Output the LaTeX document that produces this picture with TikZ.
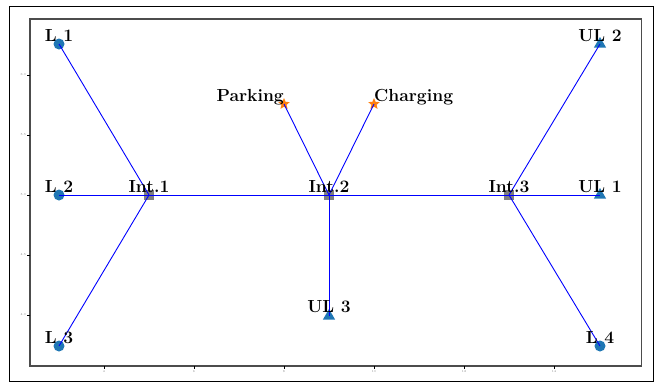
\documentclass[tikz,border=0pt]{standalone}
\usepackage{fontspec}
\usetikzlibrary{shapes.geometric}
\definecolor{mplblue}{HTML}{1F77B4}
\definecolor{mplorange}{HTML}{FF7F0E}
\definecolor{mplgray}{HTML}{7F7F7F}
\begin{document}
\begin{tikzpicture}[x=1pt,y=-1pt,
  locmark/.style={circle,fill=mplblue,inner sep=0pt,minimum size=11pt},
  ulmark/.style={regular polygon,regular polygon sides=3,fill=mplblue,inner sep=0pt,minimum size=14pt},
  intmark/.style={rectangle,fill=mplgray,inner sep=0pt,minimum size=10pt},
  poimark/.style={star,star points=5,star point ratio=2.2,fill=mplorange,inner sep=0pt,minimum size=12pt},
  road/.style={blue,line width=0.9pt},
  lab/.style={font=\fontsize{17.5}{20}\selectfont\bfseries,inner sep=0pt},
  ticklab/.style={font=\fontsize{3}{3}\selectfont,text=gray,inner sep=0.5pt}]
\useasboundingbox (0,0) rectangle (659,383);
\fill[white] (0,0) rectangle (659,383);
\draw[black,line width=1pt] (9,6) rectangle (653,381.5);
\draw[black!70,line width=1.2pt] (30,19) rectangle (641.5,366);
% ticks
\foreach \px/\t in {104/4,194/6,284/8,374/10,464/12,554/14}{
  \draw[black,line width=0.6pt] (\px,366) -- (\px,369);
  \node[ticklab,anchor=north] at (\px,369.5) {\t};
}
\foreach \py/\t in {75/6.0,135/5.5,195/5.0,255/4.5,315/4.0}{
  \draw[black,line width=0.6pt] (30,\py) -- (27,\py);
  \node[ticklab,anchor=east] at (26.5,\py) {\t};
}
% markers
\node[locmark] (l1) at (59,44) {};
\node[locmark] (l2) at (59,195) {};
\node[locmark] (l3) at (59,346) {};
\node[locmark] (l4) at (600,346) {};
\node[intmark] (i1) at (149,195) {};
\node[intmark] (i2) at (329,195) {};
\node[intmark] (i3) at (509,195) {};
\node[ulmark] (u1) at (600,195) {};
\node[ulmark] (u2) at (600,44) {};
\node[ulmark] (u3) at (329,316) {};
\node[poimark] (pk) at (284,104) {};
\node[poimark] (ch) at (374,104) {};
% roads
\draw[road] (l1.center) -- (i1.center);
\draw[road] (l2.center) -- (i1.center);
\draw[road] (l3.center) -- (i1.center);
\draw[road] (i1.center) -- (i2.center);
\draw[road] (i2.center) -- (i3.center);
\draw[road] (i3.center) -- (u1.center);
\draw[road] (i3.center) -- (u2.center);
\draw[road] (i3.center) -- (l4.center);
\draw[road] (i2.center) -- (pk.center);
\draw[road] (i2.center) -- (ch.center);
\draw[road] (i2.center) -- (u3.center);
% labels
\node[lab,anchor=base] (tl1) at (59,41) {L 1};
\node[lab,anchor=base] (tl2) at (59,192) {L 2};
\node[lab,anchor=base] (tl3) at (59,343) {L 3};
\node[lab,anchor=base] (tl4) at (600,343) {L 4};
\node[lab,anchor=base] (ti1) at (149,192) {Int.1};
\node[lab,anchor=base] (ti2) at (329,192) {Int.2};
\node[lab,anchor=base] (ti3) at (509,192) {Int.3};
\node[lab,anchor=base] (tu1) at (600,192) {UL 1};
\node[lab,anchor=base] (tu2) at (600,41) {UL 2};
\node[lab,anchor=base] (tu3) at (329,312) {UL 3};
\node[lab,anchor=base east] (tpk) at (284,101.5) {Parking};
\node[lab,anchor=base west] (tch) at (374,101.5) {Charging};
\end{tikzpicture}
\end{document}
